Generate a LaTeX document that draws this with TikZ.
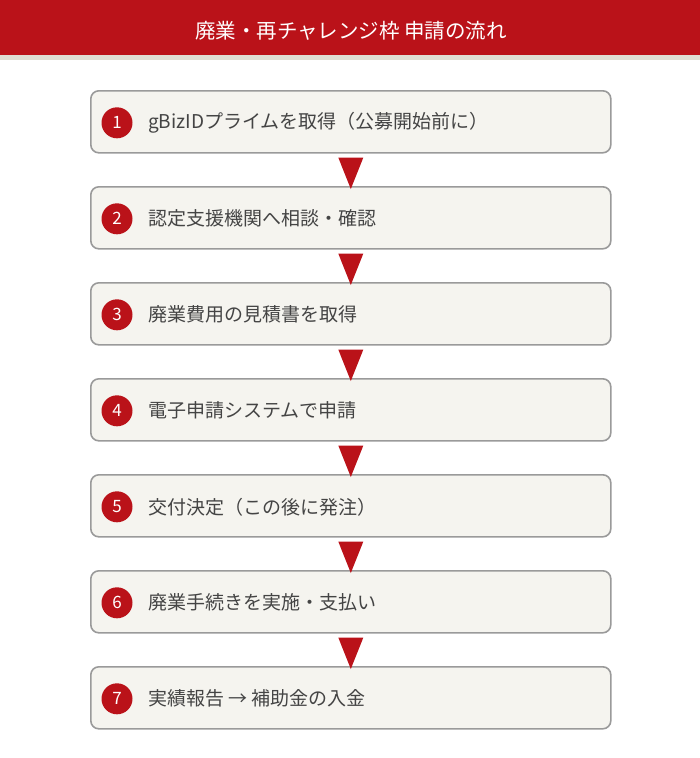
\documentclass[tikz,border=0pt]{standalone}
\usepackage{fontspec}
\setmainfont{Noto Sans CJK JP}
\usetikzlibrary{positioning,calc}
\definecolor{flowred}{HTML}{BA1219}
\definecolor{bandgrey}{HTML}{E0DDD3}
\definecolor{boxfill}{HTML}{F5F4EF}
\definecolor{boxline}{HTML}{9A9A9A}
\definecolor{steptext}{HTML}{444444}
\tikzset{
  stepbox/.style={draw=boxline, fill=boxfill, line width=1.6pt, rounded corners=8pt,
    minimum width=520pt, minimum height=62pt, inner sep=0pt},
  stepnum/.style={circle, fill=flowred, text=white, minimum size=31pt, inner sep=0pt,
    font=\fontsize{17}{20}\selectfont},
  steplabel/.style={text=steptext, inner sep=0pt, font=\fontsize{19}{22}\selectfont}
}
\begin{document}
\begin{tikzpicture}[x=1pt,y=1pt]
  \useasboundingbox (0,0) rectangle (700,-758);
  % title band
  \fill[flowred] (0,0) rectangle (700,-55);
  \fill[bandgrey] (0,-55) rectangle (700,-60);
  \node[text=white, font=\fontsize{20.5}{24}\selectfont] (title) at (351,-31) {廃業・再チャレンジ枠 申請の流れ};
  % steps
  \foreach \txt [count=\i] in {gBizIDプライムを取得（公募開始前に）, 認定支援機関へ相談・確認,
      廃業費用の見積書を取得, 電子申請システムで申請, 交付決定（この後に発注）,
      廃業手続きを実施・支払い, 実績報告 → 補助金の入金} {
    \node[stepbox, anchor=north west] (box\i) at (90,{-90-96*(\i-1)}) {};
    \node[stepnum] (num\i) at ($(box\i.west)+(27,-1)$) {\i};
    \node[steplabel, anchor=west] (label\i) at ($(box\i.west)+(58,-1)$) {\txt};
  }
  % arrows between boxes
  \foreach \i in {1,...,6} {
    \pgfmathtruncatemacro\j{\i+1}
    \fill[flowred] ($(box\i.south)+(-12.5,-4)$) -- ($(box\i.south)+(12.5,-4)$)
      -- ($(box\j.north)+(0,-3)$) -- cycle;
  }
\end{tikzpicture}
\end{document}
